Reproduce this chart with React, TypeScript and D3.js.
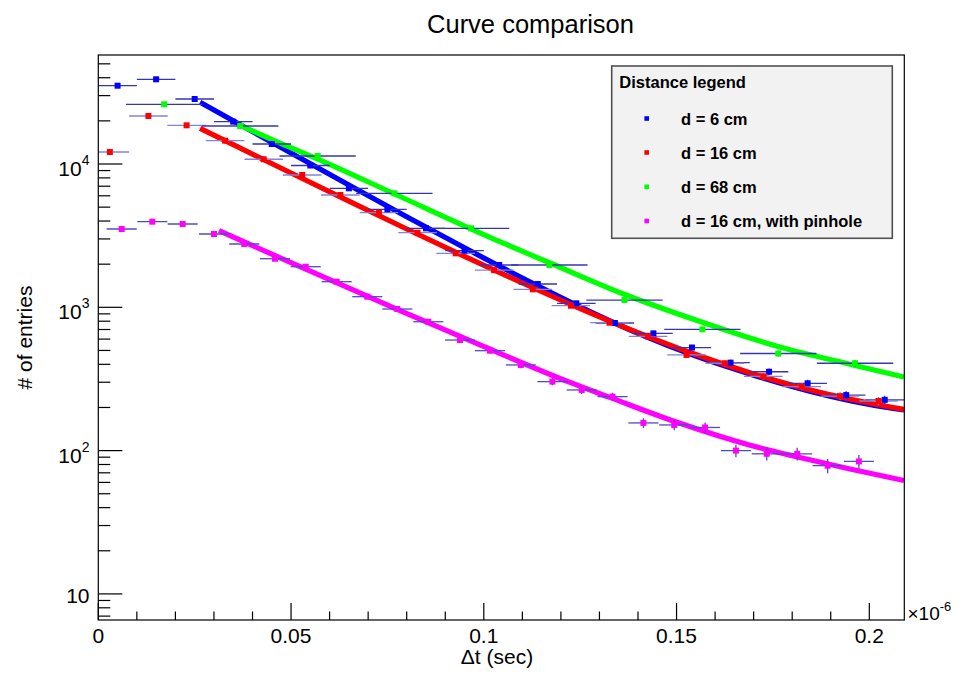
import React from "react";
import * as d3 from "d3";

// ---------- data ----------
const blueX = [0.005, 0.015, 0.025, 0.035, 0.045, 0.055, 0.065, 0.075, 0.085, 0.095, 0.104, 0.114, 0.124, 0.134, 0.144, 0.154, 0.164, 0.174, 0.184, 0.194, 0.204];
const blueY = [35190, 39000, 28420, 19740, 13790, 9760, 6767, 4830, 3558, 2483, 1974, 1454, 1066, 777, 658, 524, 411, 355, 295, 244, 226];
const redX = [0.003, 0.013, 0.0229, 0.0329, 0.0429, 0.0529, 0.0628, 0.0728, 0.0828, 0.0927, 0.1027, 0.1127, 0.1226, 0.1326, 0.1426, 0.1526, 0.1625, 0.1725, 0.1825, 0.1924, 0.2024];
const redY = [12125, 21630, 18620, 14540, 10790, 8380, 6076, 4573, 3316, 2381, 1816, 1335, 1026, 781, 626, 465, 407, 330, 280, 240, 222];
const greenX = [0.0171, 0.0368, 0.0569, 0.0768, 0.0967, 0.117, 0.1365, 0.1567, 0.1764, 0.1963];
const greenY = [26100, 18420, 11370, 6245, 3558, 1974, 1124, 702, 476, 407];
const magentaX = [0.00607, 0.01401, 0.02189, 0.03001, 0.03787, 0.04583, 0.0538, 0.06184, 0.06978, 0.07756, 0.0856, 0.09383, 0.1016, 0.1096, 0.1178, 0.1254, 0.1334, 0.1414, 0.1494, 0.1574, 0.1654, 0.1734, 0.1813, 0.1892, 0.1973];
const magentaY = [3518, 3957, 3813, 3247, 2765, 2183, 1920, 1509, 1186, 973, 793, 591, 498, 396, 303, 265, 238, 156, 151, 145, 100, 95, 95, 78.5, 84];
const xErrs = [0.005, 0.005, 0.0099, 0.0039]; // blue, red, green, magenta

// fitted curves
const blueFitX = [0.0264, 0.035, 0.05, 0.065, 0.08, 0.095, 0.11, 0.125, 0.14, 0.155, 0.17, 0.185, 0.2, 0.209];
const blueFitY = [26960, 20020, 11920, 7128, 4285, 2601, 1601, 1008, 658, 456, 336, 258, 210, 192];
const redFitX = [0.0264, 0.035, 0.05, 0.065, 0.08, 0.095, 0.11, 0.125, 0.14, 0.155, 0.17, 0.185, 0.2, 0.209];
const redFitY = [17740, 13650, 8655, 5504, 3520, 2267, 1478, 980, 666, 468, 343, 264, 215, 194];
const greenFitX = [0.03676, 0.04714, 0.05752, 0.07827, 0.1029, 0.1172, 0.1366, 0.1561, 0.1768, 0.1963, 0.209];
const greenFitY = [18570, 14010, 10660, 5933, 2972, 2038, 1228, 796, 528, 393, 326];
const magentaFitX = [0.03131, 0.04455, 0.05752, 0.07827, 0.09902, 0.1224, 0.1327, 0.1509, 0.1691, 0.182, 0.195, 0.209];
const magentaFitY = [3423, 2378, 1672, 948, 546, 299, 235, 155, 109, 89.5, 74.4, 61.8];

const legendLabels = ["d = 6 cm", "d = 16 cm", "d = 68 cm", "d = 16 cm, with pinhole"];
const xTickLabels = ["0", "0.05", "0.1", "0.15", "0.2"];
const xMajorTicks = [0, 0.05, 0.1, 0.15, 0.2];
const yMajorTicks = [10, 100, 1000, 10000];

// ---------- layout ----------
const W = 962, H = 675;
const L = 98.3, R = 904.3, T = 55, B = 620;
const FONT = "'Liberation Sans', Arial, Helvetica, sans-serif";
const colors = ["#0000ff", "#ff0000", "#00ff00", "#ff00ff"];
const barColors = ["#3434b4", "#8282de", "#3636b2", "#4c4cc4"];

export default function App() {
  const x = d3.scaleLinear().domain([0, 0.20908]).range([L, R]);
  const y = d3.scaleLog().domain([6.576, 57630]).range([B, T]);

  const series = [
    { xs: blueX, ys: blueY },
    { xs: redX, ys: redY },
    { xs: greenX, ys: greenY },
    { xs: magentaX, ys: magentaY },
  ];
  const fits = [
    { xs: blueFitX, ys: blueFitY },
    { xs: redFitX, ys: redFitY },
    { xs: greenFitX, ys: greenFitY },
    { xs: magentaFitX, ys: magentaFitY },
  ];

  const line = d3
    .line<[number, number]>()
    .x((d) => x(d[0]))
    .y((d) => y(d[1]))
    .curve(d3.curveMonotoneX);

  const xMinor = d3.range(0, 0.2095, 0.01).filter((v) => !xMajorTicks.some((m) => Math.abs(m - v) < 1e-9));
  const yMinor: number[] = [];
  [1, 10, 100, 1000, 10000].forEach((dec) => {
    for (let k = 2; k <= 9; k++) {
      const v = k * dec;
      if (v >= 6.576 && v <= 57630) yMinor.push(v);
    }
  });

  const ms = 6;

  return (
    <svg
      width={W}
      height={H}
      style={{ position: "absolute", left: 0, top: 0, background: "#fff" }}
      fontFamily={FONT}
    >
      <defs>
        <clipPath id="plotclip">
          <rect x={L} y={T} width={R - L} height={B - T} />
        </clipPath>
      </defs>
      <rect x={0} y={0} width={W} height={H} fill="#fff" />

      {/* title */}
      <text x={530.5} y={33} fontSize={25.5} textAnchor="middle" fill="#000">
        Curve comparison
      </text>

      <g clipPath="url(#plotclip)">
        {/* fitted curves */}
        {fits.map((f, i) => (
          <path
            key={"fit" + i}
            d={line(f.xs.map((v, j) => [v, f.ys[j]] as [number, number])) || ""}
            fill="none"
            stroke={colors[i]}
            strokeWidth={5.2}
            strokeLinejoin="round"
          />
        ))}
        {/* error bars */}
        {series.map((s, i) =>
          s.xs.map((xv, j) => {
            const yv = s.ys[j];
            const e = Math.sqrt(yv);
            return (
              <g key={"eb" + i + "-" + j} stroke={barColors[i]} strokeWidth={1.3}>
                <line x1={x(xv - xErrs[i])} x2={x(xv + xErrs[i])} y1={y(yv)} y2={y(yv)} />
                <line x1={x(xv)} x2={x(xv)} y1={y(yv - e)} y2={y(yv + e)} />
              </g>
            );
          })
        )}
        {/* markers */}
        {series.map((s, i) =>
          s.xs.map((xv, j) => (
            <rect
              key={"m" + i + "-" + j}
              x={x(xv) - ms / 2}
              y={y(s.ys[j]) - ms / 2}
              width={ms}
              height={ms}
              fill={colors[i]}
            />
          ))
        )}
      </g>

      {/* frame */}
      <rect x={L} y={T} width={R - L} height={B - T} fill="none" stroke="#000" strokeWidth={1.2} />

      {/* x ticks */}
      {xMajorTicks.map((v) => (
        <line key={"xt" + v} x1={x(v)} x2={x(v)} y1={B} y2={B - 17} stroke="#000" strokeWidth={1.2} />
      ))}
      {xMinor.map((v) => (
        <line key={"xm" + v} x1={x(v)} x2={x(v)} y1={B} y2={B - 8.5} stroke="#000" strokeWidth={1.2} />
      ))}
      {xMajorTicks.map((v, i) => (
        <text key={"xl" + v} x={x(v)} y={643.3} fontSize={21} textAnchor="middle" fill="#000">
          {xTickLabels[i]}
        </text>
      ))}
      <text x={907.5} y={619.5} fontSize={19} fill="#000">
        ×10<tspan dy={-9} fontSize={13}>-6</tspan>
      </text>

      {/* y ticks */}
      {yMajorTicks.map((v) => (
        <line key={"yt" + v} x1={L} x2={L + 24} y1={y(v)} y2={y(v)} stroke="#000" strokeWidth={1.2} />
      ))}
      {yMinor.map((v) => (
        <line key={"ym" + v} x1={L} x2={L + 12} y1={y(v)} y2={y(v)} stroke="#000" strokeWidth={1.2} />
      ))}
      {yMajorTicks.map((v) => {
        const p = Math.round(Math.log10(v));
        if (p === 1) {
          return (
            <text key={"yl" + v} x={89.5} y={y(v) + 9} fontSize={21} textAnchor="end" fill="#000">
              10
            </text>
          );
        }
        return (
          <text key={"yl" + v} x={89.5} y={y(v) + 12} fontSize={21} textAnchor="end" fill="#000">
            10<tspan dy={-11} fontSize={14}>{p}</tspan>
          </text>
        );
      })}

      {/* axis titles */}
      <text x={497} y={664} fontSize={21} textAnchor="middle" fill="#000">
        Δt (sec)
      </text>
      <text
        transform={`translate(32,${(T + B) / 2}) rotate(-90)`}
        fontSize={21}
        textAnchor="middle"
        fill="#000"
      >
        # of entries
      </text>

      {/* legend */}
      <rect x={611.7} y={66} width={280.6} height={172.3} fill="#f2f2f2" stroke="#505050" strokeWidth={1.6} />
      <text x={619.3} y={87.5} fontSize={16.5} fontWeight="bold" fill="#000">
        Distance legend
      </text>
      {legendLabels.map((lab, i) => {
        const cy = [118.5, 152.5, 186.8, 221][i];
        return (
          <g key={"lg" + i}>
            <rect x={646.7 - 2.3} y={cy - 2.3} width={4.6} height={4.6} fill={colors[i]} />
            <text x={681} y={cy + 6} fontSize={16.5} fontWeight="bold" fill="#000">
              {lab}
            </text>
          </g>
        );
      })}
    </svg>
  );
}
